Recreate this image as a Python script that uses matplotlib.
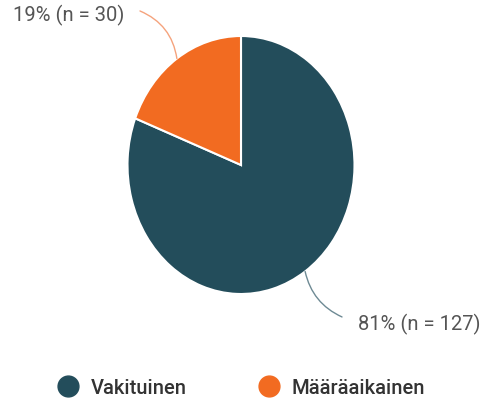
import matplotlib
matplotlib.use("Agg")
import matplotlib.pyplot as plt
from matplotlib.lines import Line2D
import numpy as np

categories = ["Vakituinen", "Määräaikainen"]
counts = [127, 30]
percent_labels = ["81% (n = 127)", "19% (n = 30)"]
colors = ["#234D5B", "#F26B21"]
line_colors = ["#6E8A94", "#F5A37D"]

plt.rcParams["font.family"] = ["Roboto", "DejaVu Sans"]

fig = plt.figure(figsize=(4.89, 4.02), dpi=100)
ax = fig.add_axes([127.5 / 489, 1 - 295 / 402, 227 / 489, 258 / 402])
wedges, _ = ax.pie(counts, colors=colors, startangle=90, counterclock=False,
                   radius=1, wedgeprops=dict(edgecolor="white", linewidth=1.5),
                   frame=False)
ax.set_aspect("auto")
ax.set_xlim(-1, 1)
ax.set_ylim(-1, 1)
ax.axis("off")

for w, lab, lc in zip(wedges, percent_labels, line_colors):
    ang = np.deg2rad((w.theta1 + w.theta2) / 2)
    px, py = np.cos(ang), np.sin(ang)
    if px < 0:
        end = (-0.89, 1.194)
        ax.annotate("", xy=(px, py), xytext=end,
                    arrowprops=dict(arrowstyle="-", color=lc, lw=1.0,
                                    shrinkA=0, shrinkB=0,
                                    connectionstyle="arc3,rad=-0.28"),
                    annotation_clip=False)
        ax.text(-1.03, 1.165, lab, ha="right", va="center", fontsize=14.5,
                color="#555555", clip_on=False)
    else:
        end = (0.89, -1.178)
        ax.annotate("", xy=(px, py), xytext=end,
                    arrowprops=dict(arrowstyle="-", color=lc, lw=1.0,
                                    shrinkA=0, shrinkB=0,
                                    connectionstyle="arc3,rad=-0.25"),
                    annotation_clip=False)
        ax.text(1.03, -1.23, lab, ha="left", va="center", fontsize=14.5,
                color="#555555", clip_on=False)

handles = [Line2D([0], [0], marker="o", linestyle="", markersize=15,
                  markerfacecolor=c, markeredgecolor=c) for c in colors]
fig.legend(handles, categories, loc="center", ncol=2,
           bbox_to_anchor=(241.5 / 489, 1 - 389 / 402), frameon=False,
           prop=dict(size=14.5, weight="medium"), labelcolor="#333333",
           handletextpad=0.6, columnspacing=3.6, handlelength=1.0)

fig.savefig("out.png", dpi=100)
